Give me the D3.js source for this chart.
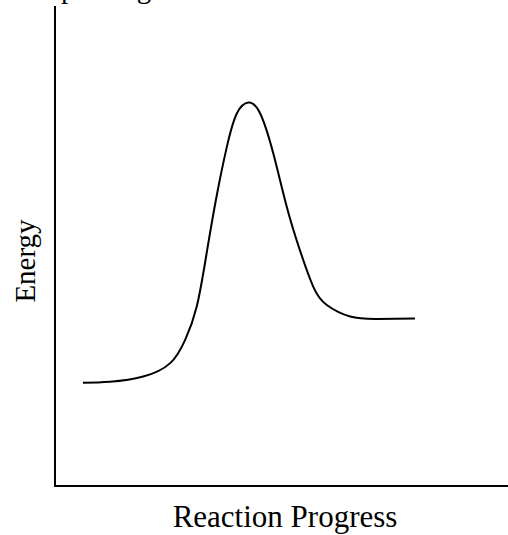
<!DOCTYPE html>
<html>
<head>
<meta charset="utf-8">
<script src="https://cdnjs.cloudflare.com/ajax/libs/d3/7.8.5/d3.min.js"></script>
<style>
  body { margin: 0; background: #fff; }
  svg { display: block; }
  text { font-family: "Liberation Serif", "Times New Roman", serif; fill: #000; }
</style>
</head>
<body>
<div id="chart"></div>
<script>
// reaction progress (arbitrary units) and energy (arbitrary units)
var progress = [0.62, 1.22, 1.96, 2.56, 2.89, 3.15, 3.37, 3.59, 3.82, 4.04, 4.30, 4.56, 4.85, 5.15, 5.44, 5.74, 6.04, 6.56, 7.15, 8.00];
var energy   = [2.15, 2.17, 2.28, 2.56, 3.04, 3.74, 4.85, 6.03, 7.07, 7.76, 7.99, 7.76, 6.93, 5.82, 4.92, 4.15, 3.77, 3.53, 3.48, 3.49];

var xLabel = "Reaction Progress";
var yLabel = "Energy";
var titleText = "plotting";   // cut off at the top of the picture

var data = progress.map(function(p, i){ return {x: p, y: energy[i]}; });

var width = 508, height = 535;
var margin = {top: 6, right: 3, bottom: 49, left: 55};

var svg = d3.select("#chart").append("svg")
    .attr("width", width)
    .attr("height", height);

var x = d3.scaleLinear()
    .domain([0, 10])
    .range([margin.left, width - margin.right]);

var y = d3.scaleLinear()
    .domain([0, 10])
    .range([height - margin.bottom, margin.top]);

// title that sits mostly above the frame
svg.append("text")
    .attr("x", 61)
    .attr("y", -2)
    .attr("font-size", "29px")
    .text(titleText);

// axes as plain lines (no ticks)
svg.append("line")
    .attr("x1", x(0)).attr("x2", x(0))
    .attr("y1", y(10)).attr("y2", y(0) + 1)
    .attr("stroke", "#000")
    .attr("stroke-width", 2);

svg.append("line")
    .attr("x1", x(0) - 1).attr("x2", width)
    .attr("y1", y(0)).attr("y2", y(0))
    .attr("stroke", "#000")
    .attr("stroke-width", 2);

var line = d3.line()
    .x(function(d){ return x(d.x); })
    .y(function(d){ return y(d.y); })
    .curve(d3.curveNatural);

svg.append("path")
    .datum(data)
    .attr("d", line)
    .attr("fill", "none")
    .attr("stroke", "#000")
    .attr("stroke-width", 2);

svg.append("text")
    .attr("x", 285)
    .attr("y", 527)
    .attr("text-anchor", "middle")
    .attr("font-size", "31px")
    .text(xLabel);

svg.append("text")
    .attr("transform", "translate(35,261) rotate(-90)")
    .attr("text-anchor", "middle")
    .attr("font-size", "29px")
    .text(yLabel);
</script>
</body>
</html>
